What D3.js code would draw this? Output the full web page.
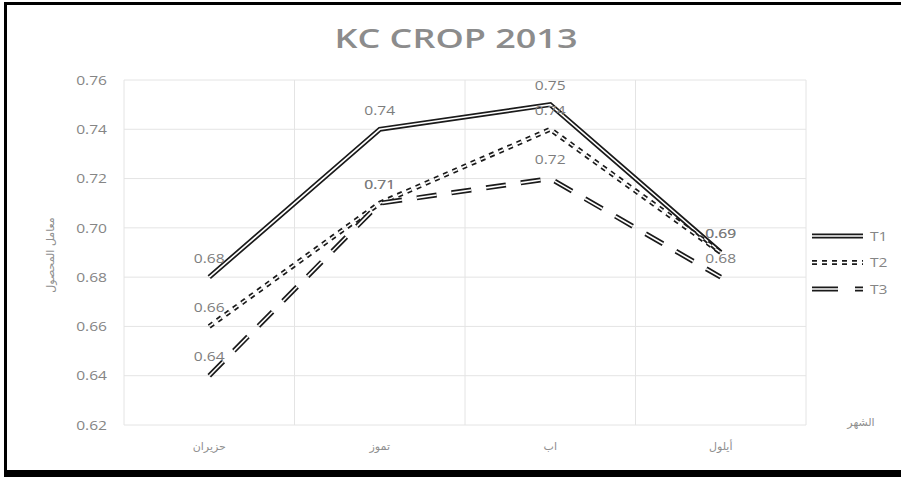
<!DOCTYPE html>
<html>
<head>
<meta charset="utf-8">
<script src="https://cdn.jsdelivr.net/npm/d3@7"></script>
<style>
  html, body { margin: 0; padding: 0; background: #fff; }
  svg { display: block; }
</style>
</head>
<body>
<svg id="chart" width="901" height="477"></svg>
<script>
// Months (Arabic) and crop coefficient series
const months = ["حزيران", "تموز", "اب", "أيلول"];
const seriesNames = ["T1", "T2", "T3"];
const t1 = [0.68, 0.74, 0.75, 0.69];
const t2 = [0.66, 0.71, 0.74, 0.69];
const t3 = [0.64, 0.71, 0.72, 0.68];
const yTicks = [0.62, 0.64, 0.66, 0.68, 0.70, 0.72, 0.74, 0.76];

const W = 901, H = 477;
const plot = { left: 124, right: 806, top: 80, bottom: 425 };
const textGrey = "#858585";
const gridGrey = "#e4e4e4";
const sx = 1.3; // horizontal text stretch

const svg = d3.select("#chart");

svg.append("rect").attr("width", W).attr("height", H).attr("fill", "#fff");

const x = d3.scaleBand().domain(months).range([plot.left, plot.right]).paddingInner(0).paddingOuter(0);
const y = d3.scaleLinear().domain([0.62, 0.76]).range([plot.bottom, plot.top]);
const cx = m => x(m) + x.bandwidth() / 2;

function stretchedText(g, px, py, str, opts = {}) {
  return g.append("text")
    .attr("transform", `translate(${px},${py}) scale(${opts.sx || sx},1)`)
    .attr("text-anchor", opts.anchor || "middle")
    .attr("dominant-baseline", "central")
    .attr("font-family", opts.family || "'Open Sans', 'DejaVu Sans', sans-serif")
    .attr("font-size", opts.size || 12)
    .attr("font-weight", opts.weight || "normal")
    .attr("fill", opts.fill || textGrey)
    .text(str);
}

// Horizontal gridlines
const grid = svg.append("g");
grid.selectAll("line.h").data(yTicks).join("line")
  .attr("x1", plot.left).attr("x2", plot.right)
  .attr("y1", d => y(d)).attr("y2", d => y(d))
  .attr("stroke", gridGrey).attr("stroke-width", 1);

// Vertical gridlines at category boundaries
const edges = months.map(m => x(m)).concat([plot.right]);
grid.selectAll("line.v").data(edges).join("line")
  .attr("x1", d => d).attr("x2", d => d)
  .attr("y1", plot.top).attr("y2", plot.bottom)
  .attr("stroke", gridGrey).attr("stroke-width", 1);

// Y axis tick labels
const yAxis = svg.append("g");
yTicks.forEach(v => stretchedText(yAxis, 107, y(v), d3.format(".2f")(v), { anchor: "end" }));

// X axis category labels
const xAxis = svg.append("g");
months.forEach(m => stretchedText(xAxis, cx(m), 446, m, { size: 11, family: "'DejaVu Sans', sans-serif", sx: 1.0, fill: "#8f8f8f" }));

// Axis titles
svg.append("text")
  .attr("transform", `translate(50,255) rotate(-90)`)
  .attr("text-anchor", "middle")
  .attr("dominant-baseline", "central")
  .attr("font-family", "'DejaVu Sans', sans-serif")
  .attr("font-size", 11)
  .attr("fill", "#8f8f8f")
  .text("معامل المحصول");

stretchedText(svg, 861, 422, "الشهر", { size: 11, family: "'DejaVu Sans', sans-serif", sx: 1.0, fill: "#8f8f8f" });

// Title
svg.append("text")
  .attr("x", 456).attr("y", 37)
  .attr("text-anchor", "middle")
  .attr("dominant-baseline", "central")
  .attr("font-family", "'Open Sans', sans-serif")
  .attr("font-weight", 600)
  .attr("font-size", 27)
  .attr("fill", "#8c8c8c")
  .attr("textLength", 243)
  .attr("lengthAdjust", "spacingAndGlyphs")
  .text("KC CROP 2013");

// Series with double-line strokes
const styles = [
  { dash: null },
  { dash: "5,5" },
  { dash: "20,15" }
];
const allSeries = [t1, t2, t3];
const line = d3.line().x((d, i) => cx(months[i])).y(d => y(d));

const lines = svg.append("g");
allSeries.forEach((vals, si) => {
  const g = lines.append("g");
  g.append("path").datum(vals).attr("d", line)
    .attr("fill", "none").attr("stroke", "#1a1a1a").attr("stroke-width", 5)
    .attr("stroke-dasharray", styles[si].dash);
  g.append("path").datum(vals).attr("d", line)
    .attr("fill", "none").attr("stroke", "#ffffff").attr("stroke-width", 1.6)
    .attr("stroke-dasharray", styles[si].dash);
});

// Data labels above points
const labels = svg.append("g");
allSeries.forEach(vals => {
  vals.forEach((v, i) => {
    stretchedText(labels, cx(months[i]), y(v) - 19, d3.format(".2f")(v), { fill: "#7d7d7d" });
  });
});

// Legend
const legend = svg.append("g");
seriesNames.forEach((name, si) => {
  const ly = 236 + si * 26.5;
  const dash = si === 2 ? "26,17" : styles[si].dash;
  legend.append("line").attr("x1", 812).attr("x2", 863).attr("y1", ly).attr("y2", ly)
    .attr("stroke", "#1a1a1a").attr("stroke-width", 5).attr("stroke-dasharray", dash);
  legend.append("line").attr("x1", 812).attr("x2", 863).attr("y1", ly).attr("y2", ly)
    .attr("stroke", "#fff").attr("stroke-width", 1.6).attr("stroke-dasharray", dash);
  stretchedText(legend, 870, ly, name, { anchor: "start" });
});

// Outer frame
const frame = svg.append("g").attr("fill", "#000");
frame.append("rect").attr("x", 4).attr("y", 2).attr("width", 3).attr("height", 475);
frame.append("rect").attr("x", 4).attr("y", 2).attr("width", 897).attr("height", 3);
frame.append("rect").attr("x", 4).attr("y", 470).attr("width", 897).attr("height", 7);
</script>
</body>
</html>
